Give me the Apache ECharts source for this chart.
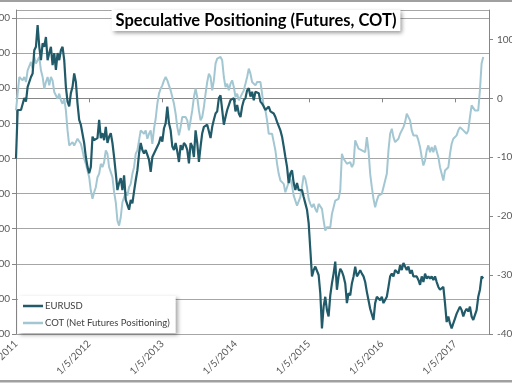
<!DOCTYPE html>
<html><head><meta charset="utf-8">
<script src="https://cdn.jsdelivr.net/npm/echarts@6/dist/echarts.min.js"></script>
<style>html,body{margin:0;padding:0;background:#fff}#c{width:512px;height:384px}</style>
</head><body><div id="c"></div><script>
const chartTitle = 'Speculative Positioning (Futures, COT)';
const seriesNames = ['EURUSD', 'COT (Net Futures Positioning)'];
const tickLabels = ['1/5/2011','1/5/2012','1/5/2013','1/5/2014','1/5/2015','1/5/2016','1/5/2017'];
const sampleStepDays = 8.3;   // days between samples, starting 1/5/2011
const daysPerTick = 365.33;
const axisEndDays = 2361;

const eurusd = [
1.300,1.369,1.371,1.369,1.369,1.386,1.381,1.402,1.400,1.416,
1.421,1.454,1.459,1.490,1.459,1.440,1.464,1.459,1.473,1.440,
1.450,1.459,1.433,1.450,1.426,1.450,1.440,1.454,1.459,1.440,
1.402,1.381,1.374,1.393,1.402,1.421,1.409,1.378,1.355,1.348,
1.348,1.322,1.302,1.288,1.279,1.288,1.331,1.326,1.324,1.329,
1.355,1.329,1.336,1.326,1.345,1.322,1.331,1.336,1.322,1.302,
1.279,1.255,1.265,1.272,1.255,1.276,1.241,1.234,1.227,1.241,
1.236,1.253,1.269,1.283,1.307,1.322,1.312,1.307,1.312,1.305,
1.298,1.281,1.302,1.307,1.307,1.317,1.322,1.331,1.324,1.343,
1.350,1.374,1.350,1.340,1.317,1.312,
1.322,1.310,1.295,1.319,1.312,1.322,1.319,1.312,1.293,1.322,
1.317,1.302,1.340,1.322,1.295,1.317,1.336,1.345,1.343,1.348,
1.348,1.329,1.345,1.355,1.364,1.367,1.386,1.390,1.369,1.348,
1.359,1.369,1.376,1.383,1.381,1.386,1.367,1.376,1.364,1.359,
1.374,1.383,1.386,1.397,1.400,1.388,1.395,1.383,1.395,1.397,
1.393,1.381,1.378,1.374,1.369,1.371,1.374,1.367,1.369,1.364,
1.359,1.352,1.350,1.340,1.331,1.317,1.302,1.288,1.265,1.279,
1.283,1.265,1.255,1.265,1.255,1.253,1.255,1.245,1.236,1.227,
1.208,1.170,1.132,1.141,1.146,1.148,1.134,1.108,1.058,1.089,
1.103,1.084,1.075,1.105,
1.122,1.136,1.153,1.113,1.132,1.143,1.139,1.132,1.122,1.094,
1.108,1.105,1.122,1.132,1.146,1.132,1.136,1.141,1.136,1.132,
1.124,1.110,1.098,1.086,1.084,1.070,1.094,1.103,1.105,1.098,
1.103,1.094,1.096,1.103,1.117,1.132,1.136,1.132,1.141,1.143,
1.136,1.148,1.141,1.151,1.153,1.141,1.146,1.136,1.141,1.132,
1.134,1.132,1.127,1.120,1.132,1.124,1.136,1.129,1.132,1.129,
1.132,1.127,1.132,1.124,1.117,1.113,1.115,1.117,1.094,1.067,
1.075,1.065,1.058,1.065,1.072,1.079,1.084,1.089,1.084,1.075,
1.082,1.086,1.082,1.089,1.075,1.070,1.072,1.084,1.103,1.113,
1.132,1.129
];

const cot = [
-20.4,8.0,36.3,39.1,30.6,36.3,27.8,47.6,50.5,61.8,
50.5,70.3,59.0,64.6,70.3,47.6,36.3,16.4,27.8,36.3,
22.1,36.3,30.6,10.8,8.0,-0.6,8.0,-3.4,-9.1,-0.6,
-20.4,-54.4,-79.9,-77.1,-74.3,-79.9,-74.3,-68.6,-65.8,-77.1,
-88.4,-102.6,-111.1,-122.4,-133.8,-156.5,-170.6,-159.3,-150.8,-133.8,
-128.1,-111.1,-116.8,-108.3,-88.4,-94.1,-116.8,-119.6,-133.8,-159.3,
-176.3,-207.5,-216.0,-201.8,-176.3,-173.5,-159.3,-165.0,-150.8,-145.1,
-128.1,-116.8,-94.1,-88.4,-71.4,-54.4,-54.4,-60.1,-54.4,-68.6,
-60.1,-54.4,-77.1,-51.6,-34.6,-9.1,8.0,16.4,22.1,30.6,
36.3,30.6,22.1,13.6,2.3,-9.1,
-26.1,-48.8,-62.9,-48.8,-31.7,-34.6,-31.7,-37.4,-54.4,-37.4,
-20.4,2.3,16.4,2.3,-20.4,-37.4,-31.7,-14.7,8.0,27.8,
41.9,36.3,13.6,30.6,59.0,67.5,64.6,70.3,64.6,36.3,
19.3,24.9,13.6,24.9,30.6,19.3,2.3,8.0,-3.4,-0.6,
8.0,13.6,24.9,36.3,50.5,41.9,27.8,30.6,22.1,27.8,
30.6,27.8,8.0,-14.7,-20.4,-37.4,-60.1,-62.9,-60.1,-74.3,
-88.4,-111.1,-128.1,-139.5,-136.6,-145.1,-159.3,-150.8,-142.3,-136.6,
-148.0,-165.0,-173.5,-182.0,-179.1,-167.8,-150.8,-131.0,-136.6,-150.8,
-170.6,-179.1,-184.8,-179.1,-187.6,-193.3,-179.1,-176.3,-187.6,-207.5,
-224.5,-218.8,-216.0,-218.8,
-196.1,-184.8,-173.5,-170.6,-170.6,-156.5,-94.1,-102.6,-99.8,-111.1,
-113.9,-108.3,-116.8,-111.1,-71.4,-74.3,-85.5,-82.8,-88.4,-85.5,
-91.3,-65.8,-88.4,-128.1,-150.8,-170.6,-184.8,-173.5,-165.0,-162.1,
-162.1,-150.8,-139.5,-128.1,-88.4,-60.1,-51.6,-65.8,-74.3,-77.1,
-68.6,-60.1,-57.3,-48.8,-40.3,-26.1,-23.2,-37.4,-54.4,-62.9,
-65.8,-62.9,-71.4,-82.8,-99.8,-113.9,-105.4,-88.4,-79.9,-91.3,
-82.8,-91.3,-79.9,-82.8,-99.8,-116.8,-128.1,-139.5,-122.4,-119.6,
-116.8,-94.1,-77.1,-68.6,-65.8,-62.9,-54.4,-48.8,-45.9,-54.4,
-51.6,-60.1,-54.4,-31.7,-11.9,-14.7,-20.4,-23.2,-20.4,13.6,
59.0,70.3
];

const FONT = 'Lato';
const toPairs = arr => arr.map((v, i) => [i * sampleStepDays, v]);
const chart = echarts.init(document.getElementById('c'), null, {renderer: 'canvas'});
chart.setOption({
  animation: false,
  backgroundColor: '#fff',
  textStyle: {fontFamily: FONT},
  title: {
    text: chartTitle, left: 'center', top: 10,
    padding: [2, 4, 2, 4],
    backgroundColor: '#fff',
    shadowColor: 'rgba(0,0,0,0.4)', shadowBlur: 4, shadowOffsetX: 2, shadowOffsetY: 2,
    textStyle: {fontFamily: FONT, fontWeight: 'bold', fontSize: 16.5, color: '#000'}
  },
  legend: {
    orient: 'vertical', left: 18, top: 296,
    backgroundColor: '#fff',
    padding: [5, 6, 5, 5],
    icon: 'rect',
    itemWidth: 20, itemHeight: 2.5, itemGap: 7,
    shadowColor: 'rgba(0,0,0,0.35)', shadowBlur: 4, shadowOffsetX: 2, shadowOffsetY: 2,
    textStyle: {fontFamily: FONT, fontSize: 9.5, color: '#404040', padding: [0, 0, 0, -3]},
    data: seriesNames
  },
  grid: {left: 16, right: 23, top: 10, bottom: 50, containLabel: false, outerBoundsMode: 'none'},
  xAxis: {
    type: 'value', min: 0, max: axisEndDays, interval: daysPerTick,
    axisLine: {show: true, lineStyle: {color: '#868686', width: 1}},
    axisTick: {show: true, length: 4, lineStyle: {color: '#868686'}},
    splitLine: {show: false},
    axisLabel: {
      rotate: 45, fontSize: 10, color: '#595959', margin: 8, showMaxLabel: false,
      formatter: v => {
        const k = v / daysPerTick;
        return Math.abs(k - Math.round(k)) < 0.01 ? (tickLabels[Math.round(k)] || '') : '';
      }
    }
  },
  yAxis: [{
    type: 'value', position: 'left', min: 1.05, max: 1.5114, interval: 0.05,
    axisLine: {show: true, lineStyle: {color: '#868686'}},
    axisTick: {show: true, length: 4, lineStyle: {color: '#868686'}},
    splitLine: {show: true, lineStyle: {color: '#a6a6a6', width: 1}},
    axisLabel: {
      fontSize: 10, color: '#595959', margin: 6, showMaxLabel: false,
      formatter: v => { const k = v / 0.05; return Math.abs(k - Math.round(k)) < 0.01 ? v.toFixed(4) : ''; }
    }
  }, {
    type: 'value', position: 'right', min: -400, max: 150, interval: 100,
    axisLine: {show: true, lineStyle: {color: '#868686'}},
    axisTick: {show: true, length: 4, lineStyle: {color: '#868686'}},
    splitLine: {show: false},
    axisLabel: {
      fontSize: 10, color: '#595959', margin: 8, showMaxLabel: false,
      formatter: v => (Math.abs(v % 100) < 0.01 ? String(v) : '')
    }
  }],
  series: [{
    name: seriesNames[1], type: 'line', yAxisIndex: 1, data: toPairs(cot),
    symbol: 'none', lineStyle: {color: '#a3c7d2', width: 2}, itemStyle: {color: '#a3c7d2'}, z: 2
  }, {
    name: seriesNames[0], type: 'line', yAxisIndex: 0, data: toPairs(eurusd),
    symbol: 'none', lineStyle: {color: '#215a69', width: 2.2}, itemStyle: {color: '#215a69'}, z: 3
  }],
  graphic: [
    {type: 'rect', left: 0, top: 0, shape: {width: 512, height: 2}, style: {fill: '#a0a0a0'}, silent: true},
    {type: 'rect', left: 0, top: 380, shape: {width: 512, height: 2.5}, style: {fill: '#a0a0a0'}, silent: true}
  ]
});
</script></body></html>
